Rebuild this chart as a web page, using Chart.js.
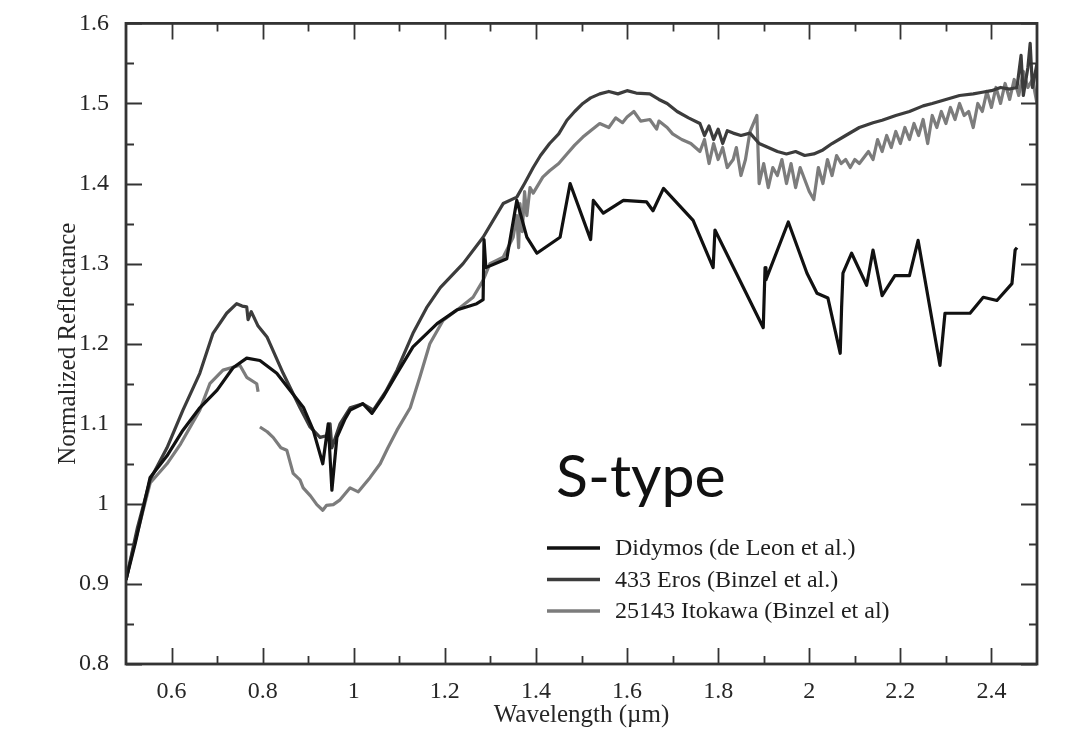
<!DOCTYPE html>
<html>
<head>
<meta charset="utf-8">
<script src="https://cdn.jsdelivr.net/npm/chart.js@4.4.0/dist/chart.umd.min.js"></script>
<style>
    html, body { margin: 0; padding: 0; background: #ffffff; }
</style>
</head>
<body>
<canvas id="spectraChart" width="1072" height="739"></canvas>
<script>
// Series: wavelength (µm) and normalized reflectance
const seriesLabels = ['Didymos (de Leon et al.)', '433 Eros (Binzel et al.)', '25143 Itokawa (Binzel et al)'];

const didymosWl = [0.50, 0.52, 0.553, 0.59, 0.625, 0.662, 0.70, 0.735, 0.765, 0.794, 0.831, 0.86, 0.89, 0.911, 0.932, 0.944, 0.952, 0.963, 0.98, 0.992,
    1.02, 1.04, 1.064, 1.095, 1.13, 1.183, 1.226, 1.27, 1.284, 1.286, 1.29, 1.336, 1.358, 1.38, 1.402, 1.453, 1.475, 1.52, 1.526, 1.548,
    1.592, 1.643, 1.657, 1.68, 1.745, 1.789, 1.793, 1.899, 1.903, 1.905, 1.954, 1.995, 2.017, 2.041, 2.068, 2.071, 2.074, 2.093, 2.126, 2.14,
    2.16, 2.188, 2.22, 2.239, 2.287, 2.298, 2.353, 2.382, 2.412, 2.445, 2.452, 2.456];
const didymosRefl = [0.905, 0.95, 1.033, 1.06, 1.092, 1.12, 1.142, 1.17, 1.182, 1.179, 1.163, 1.142, 1.12, 1.092, 1.05, 1.10, 1.017, 1.083, 1.105, 1.117,
    1.125, 1.113, 1.133, 1.163, 1.196, 1.225, 1.242, 1.25, 1.255, 1.33, 1.295, 1.306, 1.379, 1.333, 1.313, 1.333, 1.40, 1.33, 1.379, 1.363,
    1.379, 1.377, 1.366, 1.394, 1.354, 1.295, 1.342, 1.22, 1.295, 1.28, 1.352, 1.288, 1.263, 1.257, 1.188, 1.245, 1.288, 1.313, 1.273, 1.317,
    1.26, 1.285, 1.285, 1.329, 1.173, 1.238, 1.238, 1.258, 1.254, 1.275, 1.317, 1.32];

const erosWl = [0.50, 0.525, 0.553, 0.59, 0.625, 0.662, 0.691, 0.721, 0.743, 0.755, 0.765, 0.768, 0.775, 0.79, 0.81, 0.845, 0.882, 0.904, 0.926, 0.94,
    0.948, 0.952, 0.97, 0.992, 1.02, 1.043, 1.07, 1.095, 1.13, 1.16, 1.19, 1.24, 1.284, 1.328, 1.358, 1.375, 1.394, 1.41, 1.43, 1.45,
    1.468, 1.485, 1.503, 1.52, 1.54, 1.56, 1.58, 1.60, 1.62, 1.65, 1.67, 1.688, 1.71, 1.735, 1.76, 1.77, 1.78, 1.79, 1.80, 1.81,
    1.82, 1.833, 1.85, 1.87, 1.89, 1.91, 1.93, 1.95, 1.97, 1.99, 2.01, 2.03, 2.05, 2.08, 2.11, 2.14, 2.16, 2.19, 2.22, 2.25,
    2.27, 2.30, 2.33, 2.36, 2.38, 2.40, 2.42, 2.44, 2.456, 2.465, 2.47, 2.48, 2.485, 2.49, 2.50];
const erosRefl = [0.905, 0.97, 1.03, 1.07, 1.117, 1.163, 1.213, 1.238, 1.25, 1.247, 1.246, 1.23, 1.24, 1.222, 1.208, 1.163, 1.12, 1.096, 1.083, 1.085,
    1.10, 1.07, 1.10, 1.12, 1.125, 1.117, 1.14, 1.167, 1.213, 1.245, 1.27, 1.30, 1.333, 1.375, 1.383, 1.40, 1.42, 1.435, 1.45, 1.462,
    1.479, 1.49, 1.50, 1.507, 1.512, 1.515, 1.512, 1.516, 1.513, 1.512, 1.505, 1.50, 1.49, 1.482, 1.475, 1.46, 1.472, 1.455, 1.468, 1.45,
    1.466, 1.463, 1.46, 1.463, 1.45, 1.445, 1.44, 1.437, 1.44, 1.435, 1.437, 1.442, 1.45, 1.46, 1.47, 1.476, 1.479, 1.485, 1.49, 1.497,
    1.50, 1.505, 1.51, 1.512, 1.514, 1.516, 1.52, 1.518, 1.52, 1.56, 1.51, 1.545, 1.575, 1.52, 1.55];

const itokawaWl = [0.50, 0.515, 0.553, 0.59, 0.62, 0.662, 0.684, 0.713, 0.75, 0.765, 0.787, 0.79, 0.792, 0.794, 0.81, 0.823, 0.84, 0.853, 0.867, 0.882,
    0.889, 0.905, 0.919, 0.932, 0.94, 0.955, 0.97, 0.992, 1.01, 1.036, 1.058, 1.075, 1.095, 1.124, 1.145, 1.167, 1.196, 1.233, 1.262, 1.284,
    1.299, 1.328, 1.35, 1.358, 1.362, 1.365, 1.37, 1.375, 1.38, 1.387, 1.394, 1.415, 1.43, 1.45, 1.468, 1.485, 1.503, 1.52, 1.54, 1.56,
    1.575, 1.59, 1.60, 1.615, 1.63, 1.65, 1.665, 1.67, 1.688, 1.70, 1.72, 1.74, 1.76, 1.77, 1.78, 1.79, 1.80, 1.81, 1.82, 1.833,
    1.84, 1.85, 1.86, 1.87, 1.885, 1.89, 1.90, 1.91, 1.92, 1.93, 1.94, 1.95, 1.96, 1.97, 1.98, 1.99, 2.00, 2.01, 2.02, 2.03,
    2.04, 2.05, 2.06, 2.07, 2.08, 2.09, 2.10, 2.11, 2.13, 2.14, 2.15, 2.16, 2.17, 2.18, 2.19, 2.20, 2.21, 2.22, 2.23, 2.24,
    2.25, 2.26, 2.27, 2.28, 2.29, 2.30, 2.31, 2.32, 2.33, 2.34, 2.35, 2.36, 2.37, 2.38, 2.39, 2.40, 2.41, 2.42, 2.43, 2.44,
    2.45, 2.46, 2.47, 2.48, 2.49, 2.50];
const itokawaRefl = [0.905, 0.942, 1.026, 1.05, 1.075, 1.117, 1.15, 1.167, 1.173, 1.158, 1.15, 1.14, null, 1.096, 1.09, 1.083, 1.07, 1.067, 1.038, 1.03,
    1.02, 1.01, 0.999, 0.992, 0.998, 0.999, 1.005, 1.02, 1.015, 1.033, 1.05, 1.07, 1.092, 1.12, 1.158, 1.20, 1.229, 1.245, 1.258, 1.279,
    1.30, 1.308, 1.333, 1.36, 1.32, 1.375, 1.34, 1.39, 1.36, 1.395, 1.388, 1.408, 1.416, 1.425, 1.437, 1.448, 1.458, 1.466, 1.475, 1.47,
    1.482, 1.476, 1.483, 1.49, 1.478, 1.48, 1.468, 1.478, 1.47, 1.462, 1.455, 1.45, 1.44, 1.455, 1.425, 1.45, 1.43, 1.445, 1.42, 1.43,
    1.445, 1.41, 1.43, 1.465, 1.485, 1.40, 1.425, 1.395, 1.42, 1.41, 1.43, 1.40, 1.425, 1.395, 1.42, 1.405, 1.39, 1.38, 1.42, 1.40,
    1.43, 1.41, 1.435, 1.425, 1.43, 1.42, 1.43, 1.425, 1.44, 1.43, 1.455, 1.44, 1.46, 1.445, 1.465, 1.45, 1.47, 1.455, 1.475, 1.46,
    1.48, 1.45, 1.485, 1.47, 1.49, 1.475, 1.495, 1.48, 1.50, 1.485, 1.49, 1.47, 1.50, 1.49, 1.515, 1.495, 1.52, 1.50, 1.525, 1.505,
    1.53, 1.51, 1.54, 1.52, 1.53, 1.50];

const xTicks = [0.6, 0.8, 1, 1.2, 1.4, 1.6, 1.8, 2, 2.2, 2.4];
const yTicks = [0.8, 0.9, 1, 1.1, 1.2, 1.3, 1.4, 1.5, 1.6];

const seriesColors = ['#111111', '#3c3c3c', '#7c7c7c'];

function toPoints(wl, refl) {
    return wl.map((w, i) => ({ x: w, y: refl[i] }));
}

const serif = "'Liberation Serif', 'Times New Roman', serif";

// Cuadro, marcas internas, leyenda y etiqueta "S-type"
const framePlugin = {
    id: 'frame',
    afterDatasetsDraw(chart) {
        const { ctx, chartArea: a, scales: { x, y } } = chart;
        ctx.save();
        ctx.strokeStyle = '#333333';
        ctx.lineWidth = 1.8;
        ctx.beginPath();
        const xMinor = xTicks.slice(1).map((v, i) => (v + xTicks[i]) / 2);
        const yMinor = yTicks.slice(1).map((v, i) => (v + yTicks[i]) / 2);
        const tickX = (vals, len) => vals.forEach(v => {
            const p = Math.round(x.getPixelForValue(v)) + 0.5;
            ctx.moveTo(p, a.bottom); ctx.lineTo(p, a.bottom - len);
            ctx.moveTo(p, a.top); ctx.lineTo(p, a.top + len);
        });
        const tickY = (vals, len) => vals.forEach(v => {
            const p = Math.round(y.getPixelForValue(v)) + 0.5;
            ctx.moveTo(a.left, p); ctx.lineTo(a.left + len, p);
            ctx.moveTo(a.right, p); ctx.lineTo(a.right - len, p);
        });
        tickX(xTicks, 16); tickX(xMinor, 8);
        tickY(yTicks, 16); tickY(yMinor, 8);
        ctx.stroke();

        ctx.lineWidth = 2.8;
        ctx.strokeRect(a.left, a.top, a.right - a.left, a.bottom - a.top);

        // leyenda
        ctx.font = '24px ' + serif;
        ctx.textBaseline = 'middle';
        ctx.fillStyle = '#1e1e1e';
        chart.data.datasets.forEach((ds, i) => {
            const yy = 548 + i * 31.5;
            ctx.strokeStyle = ds.borderColor;
            ctx.lineWidth = 3.5;
            ctx.beginPath();
            ctx.moveTo(547, yy); ctx.lineTo(600, yy);
            ctx.stroke();
            ctx.fillText(ds.label, 615, yy + 1);
        });

        ctx.font = '59px Lato, sans-serif';
        ctx.textBaseline = 'alphabetic';
        ctx.fillStyle = '#111111';
        ctx.fillText('S-type', 556, 497);
        ctx.restore();
    }
};

const ctx = document.getElementById('spectraChart').getContext('2d');
const spectraChart = new Chart(ctx, {
    type: 'line',
    data: {
        datasets: [{
            label: seriesLabels[0],
            data: toPoints(didymosWl, didymosRefl),
            borderColor: seriesColors[0],
            borderWidth: 3.2
        }, {
            label: seriesLabels[1],
            data: toPoints(erosWl, erosRefl),
            borderColor: seriesColors[1],
            borderWidth: 3.2
        }, {
            label: seriesLabels[2],
            data: toPoints(itokawaWl, itokawaRefl),
            borderColor: seriesColors[2],
            borderWidth: 3.2
        }]
    },
    options: {
        responsive: false,
        animation: false,
        spanGaps: false,
        elements: {
            point: { radius: 0 },
            line: { tension: 0, borderJoinStyle: 'round' }
        },
        layout: { padding: { top: 23, right: 35, left: 0, bottom: 0 } },
        plugins: {
            legend: { display: false },
            tooltip: { enabled: false }
        },
        scales: {
            x: {
                type: 'linear',
                min: 0.5,
                max: 2.5,
                grid: { display: false },
                border: { display: false },
                afterBuildTicks: s => { s.ticks = xTicks.map(v => ({ value: v })); },
                afterFit: s => { s.height = 75; },
                ticks: {
                    padding: 5,
                    maxRotation: 0,
                    color: '#262626',
                    font: { family: serif, size: 24 },
                    callback: v => String(v)
                },
                title: {
                    display: true,
                    text: 'Wavelength (µm)',
                    color: '#262626',
                    font: { family: serif, size: 25 },
                    padding: { top: 0, bottom: 9 }
                }
            },
            y: {
                min: 0.8,
                max: 1.6,
                grid: { display: false },
                border: { display: false },
                afterBuildTicks: s => { s.ticks = yTicks.map(v => ({ value: v })); },
                afterFit: s => { s.width = 126; },
                ticks: {
                    padding: 9,
                    color: '#262626',
                    font: { family: serif, size: 24 },
                    callback: v => String(v)
                },
                title: {
                    display: true,
                    text: 'Normalized Reflectance',
                    color: '#262626',
                    font: { family: serif, size: 25 },
                    padding: { top: 53, bottom: 0 }
                }
            }
        }
    },
    plugins: [framePlugin]
});
</script>
</body>
</html>
